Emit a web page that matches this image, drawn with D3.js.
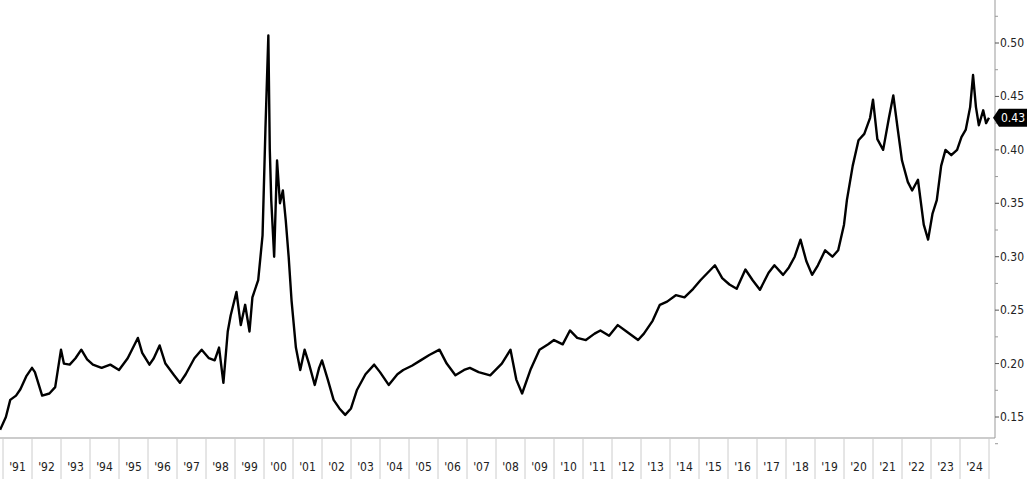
<!DOCTYPE html>
<html><head><meta charset="utf-8">
<script src="https://cdn.jsdelivr.net/npm/d3@7"></script>
<style>body{margin:0;background:#fff}text{font-family:"DejaVu Sans Condensed","Liberation Sans",sans-serif}</style>
</head><body><svg width="1027" height="479"></svg>
<script>
const years = d3.range(1991, 2025)
const yTicks = [0.15, 0.20, 0.25, 0.30, 0.35, 0.40, 0.45, 0.50]
const lastValue = 0.43
// [decimal year, value]
const series = [
  [1990.9,0.138],[1991.1,0.150],[1991.25,0.166],[1991.45,0.170],[1991.6,0.176],[1991.8,0.188],[1992.0,0.196],[1992.1,0.192],
  [1992.35,0.170],[1992.6,0.172],[1992.8,0.178],[1993.0,0.213],[1993.1,0.200],[1993.3,0.199],[1993.5,0.205],[1993.7,0.213],
  [1993.9,0.204],[1994.1,0.199],[1994.4,0.196],[1994.7,0.199],[1995.0,0.194],[1995.3,0.205],[1995.65,0.224],[1995.8,0.210],
  [1996.05,0.199],[1996.2,0.205],[1996.4,0.217],[1996.6,0.200],[1996.9,0.189],[1997.1,0.182],[1997.3,0.190],[1997.6,0.205],
  [1997.85,0.213],[1998.1,0.205],[1998.3,0.203],[1998.45,0.215],[1998.6,0.182],[1998.75,0.230],[1998.85,0.245],[1999.05,0.267],
  [1999.2,0.236],[1999.35,0.255],[1999.5,0.230],[1999.6,0.262],[1999.8,0.278],[1999.95,0.320],[2000.05,0.420],[2000.15,0.507],
  [2000.2,0.400],[2000.25,0.353],[2000.35,0.300],[2000.45,0.390],[2000.55,0.350],[2000.65,0.362],[2000.75,0.334],[2000.85,0.300],
  [2000.95,0.259],[2001.1,0.215],[2001.25,0.194],[2001.4,0.213],[2001.55,0.200],[2001.75,0.180],[2001.9,0.196],[2002.0,0.203],
  [2002.2,0.185],[2002.4,0.166],[2002.6,0.158],[2002.8,0.152],[2003.0,0.158],[2003.2,0.175],[2003.5,0.190],[2003.8,0.199],
  [2004.0,0.192],[2004.3,0.180],[2004.6,0.190],[2004.8,0.194],[2005.1,0.198],[2005.4,0.203],[2005.7,0.208],[2006.05,0.213],
  [2006.3,0.200],[2006.6,0.189],[2006.9,0.194],[2007.1,0.196],[2007.4,0.192],[2007.8,0.189],[2008.2,0.200],[2008.5,0.213],
  [2008.7,0.185],[2008.9,0.172],[2009.2,0.195],[2009.5,0.213],[2009.8,0.218],[2010.0,0.222],[2010.3,0.218],[2010.55,0.231],
  [2010.8,0.224],[2011.1,0.222],[2011.4,0.228],[2011.6,0.231],[2011.9,0.226],[2012.2,0.236],[2012.5,0.230],[2012.9,0.222],
  [2013.1,0.228],[2013.4,0.240],[2013.65,0.255],[2013.9,0.258],[2014.2,0.264],[2014.5,0.262],[2014.8,0.270],[2015.05,0.278],
  [2015.3,0.285],[2015.55,0.292],[2015.8,0.280],[2016.05,0.274],[2016.3,0.270],[2016.6,0.288],[2016.85,0.278],[2017.1,0.269],
  [2017.4,0.285],[2017.6,0.292],[2017.9,0.283],[2018.1,0.290],[2018.3,0.300],[2018.5,0.316],[2018.7,0.296],[2018.9,0.283],
  [2019.1,0.292],[2019.35,0.306],[2019.6,0.300],[2019.8,0.306],[2020.0,0.330],[2020.1,0.353],[2020.3,0.385],[2020.5,0.409],
  [2020.7,0.415],[2020.9,0.430],[2021.0,0.447],[2021.15,0.410],[2021.35,0.400],[2021.55,0.430],[2021.7,0.451],[2021.85,0.420],
  [2022.0,0.390],[2022.2,0.370],[2022.35,0.362],[2022.55,0.372],[2022.75,0.330],[2022.9,0.316],[2023.05,0.340],[2023.2,0.353],
  [2023.35,0.385],[2023.5,0.400],[2023.7,0.395],[2023.9,0.400],[2024.05,0.412],[2024.2,0.419],[2024.35,0.440],[2024.45,0.470],
  [2024.55,0.440],[2024.65,0.423],[2024.8,0.437],[2024.9,0.425],[2025.0,0.430]
]

const svg = d3.select('svg')
const plotRight = 995, plotBottom = 438

const x = d3.scaleLinear().domain([1991, 2025]).range([3, 989])
const y = d3.scaleLinear().domain([0.15, 0.50]).range([417, 43])

// x axis band with year separators
svg.append('line').attr('x1', 0).attr('x2', plotRight).attr('y1', plotBottom).attr('y2', plotBottom)
  .attr('stroke', '#999')
svg.selectAll('line.sep').data(years.concat([2025])).enter().append('line')
  .attr('class', 'sep')
  .attr('x1', d => x(d)).attr('x2', d => x(d))
  .attr('y1', plotBottom).attr('y2', 479)
  .attr('stroke', '#ccc')
svg.selectAll('text.yr').data(years).enter().append('text')
  .attr('class', 'yr')
  .attr('x', d => x(d + 0.5)).attr('y', 471)
  .attr('text-anchor', 'middle').attr('font-size', 12).attr('fill', '#222')
  .text(d => `'${String(d).slice(2)}`)

// right axis
svg.append('line').attr('x1', plotRight).attr('x2', plotRight).attr('y1', 0).attr('y2', plotBottom)
  .attr('stroke', '#999')
const minor = d3.range(0.125, 0.55, 0.05)
svg.selectAll('line.minor').data(minor).enter().append('line')
  .attr('x1', plotRight).attr('x2', plotRight + 3)
  .attr('y1', d => y(d)).attr('y2', d => y(d)).attr('stroke', '#999')
svg.selectAll('line.major').data(yTicks).enter().append('line')
  .attr('x1', plotRight).attr('x2', plotRight + 4)
  .attr('y1', d => y(d)).attr('y2', d => y(d)).attr('stroke', '#555')
svg.selectAll('text.yt').data(yTicks).enter().append('text')
  .attr('x', plotRight + 5).attr('y', d => y(d) + 4)
  .attr('font-size', 12).attr('fill', '#222')
  .text(d => d.toFixed(2))

// series line
svg.append('path').datum(series)
  .attr('fill', 'none').attr('stroke', '#000').attr('stroke-width', 2.4)
  .attr('stroke-linejoin', 'round')
  .attr('d', d3.line().x(d => x(d[0])).y(d => y(d[1])))

// last value tag
const ty = y(lastValue)
svg.append('path')
  .attr('d', `M${plotRight - 2},${ty} L${plotRight + 4},${ty - 9} L1027,${ty - 9} L1027,${ty + 9} L${plotRight + 4},${ty + 9} Z`)
  .attr('fill', '#000')
svg.append('text').attr('x', plotRight + 6).attr('y', ty + 4.5)
  .attr('font-size', 12).attr('fill', '#fff').text(lastValue.toFixed(2))
</script></body></html>
